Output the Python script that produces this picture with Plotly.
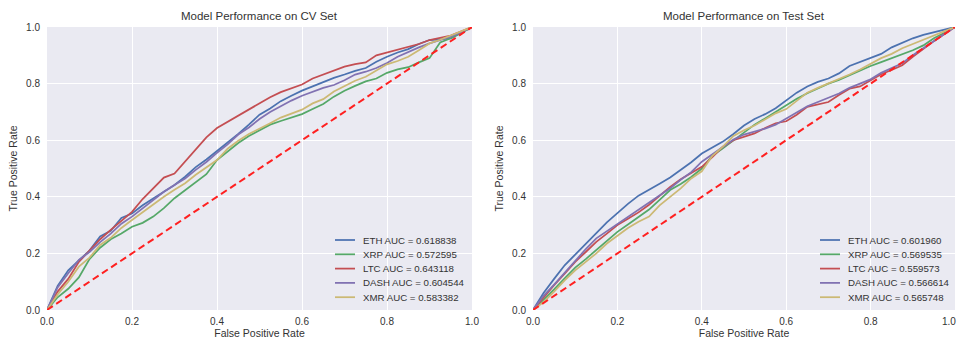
import plotly.graph_objects as go

# ---------------- data ----------------
fpr = [0, .025, .05, .075, .1, .125, .15, .175, .2, .225, .25, .275, .3, .325, .35, .375,
       .4, .425, .45, .475, .5, .525, .55, .575, .6, .625, .65, .675, .7, .725, .75, .775,
       .8, .825, .85, .875, .9, .925, .95, .975, 1.0]

coins = ["ETH", "XRP", "LTC", "DASH", "XMR"]
colors = ["#4C72B0", "#55A868", "#C44E52", "#8172B2", "#CCB974"]

cv_auc = ["0.618838", "0.572595", "0.643118", "0.604544", "0.583382"]
test_auc = ["0.601960", "0.569535", "0.559573", "0.566614", "0.565748"]

cv_eth = [0, .085, .14, .175, .21, .26, .28, .325, .341, .37, .395, .42, .442, .471, .505, .532,
          .562, .59, .622, .655, .69, .712, .738, .757, .775, .79, .805, .82, .832, .845, .855, .877,
          .895, .91, .922, .94, .954, .957, .96, .98, 1.0]
cv_xrp = [0, .045, .075, .115, .18, .22, .25, .27, .294, .308, .33, .36, .395, .424, .452, .48,
          .53, .56, .59, .615, .635, .655, .668, .68, .692, .71, .728, .754, .775, .792, .808, .818,
          .838, .85, .858, .875, .89, .945, .96, .98, 1.0]
cv_ltc = [0, .065, .11, .17, .21, .25, .283, .315, .347, .392, .43, .468, .482, .525, .565, .61,
          .643, .665, .688, .71, .73, .752, .77, .783, .797, .818, .832, .848, .86, .869, .875, .9,
          .91, .92, .928, .94, .954, .962, .97, .985, 1.0]
cv_dash = [0, .08, .13, .177, .205, .24, .27, .305, .33, .36, .39, .418, .442, .465, .495, .523,
           .555, .585, .62, .645, .675, .7, .72, .74, .757, .772, .785, .795, .812, .832, .842, .855,
           .873, .895, .912, .928, .942, .955, .966, .982, 1.0]
cv_xmr = [0, .055, .1, .153, .185, .23, .255, .29, .318, .346, .375, .4, .425, .448, .478, .505,
          .53, .57, .598, .622, .64, .66, .68, .695, .708, .73, .745, .772, .792, .81, .824, .846,
          .868, .88, .895, .918, .942, .955, .97, .985, 1.0]

test_eth = [0, .06, .11, .158, .196, .233, .27, .31, .342, .375, .404, .424, .446, .468, .495, .522,
            .553, .575, .595, .622, .652, .675, .692, .713, .74, .768, .79, .806, .818, .836, .862, .876,
            .889, .905, .928, .945, .96, .972, .982, .992, 1.0]
test_xrp = [0, .035, .073, .112, .15, .18, .212, .245, .276, .302, .33, .355, .389, .424, .445, .47,
            .5, .545, .571, .6, .628, .655, .677, .7, .725, .746, .766, .783, .8, .813, .83, .845,
            .862, .876, .89, .902, .918, .935, .96, .98, 1.0]
test_ltc = [0, .045, .088, .128, .17, .205, .241, .27, .3, .322, .345, .372, .404, .435, .462, .484,
            .506, .54, .577, .6, .612, .624, .643, .66, .667, .69, .718, .726, .735, .76, .782, .79,
            .812, .833, .848, .865, .895, .924, .95, .975, 1.0]
test_dash = [0, .05, .09, .133, .175, .215, .253, .278, .304, .33, .352, .377, .404, .43, .46, .487,
             .524, .55, .577, .602, .62, .63, .641, .655, .677, .7, .72, .735, .75, .765, .785, .8,
             .815, .838, .854, .872, .9, .924, .95, .975, 1.0]
test_xmr = [0, .028, .065, .105, .14, .17, .2, .235, .264, .29, .312, .33, .37, .4, .43, .465,
            .49, .545, .577, .615, .635, .652, .672, .695, .71, .74, .768, .785, .8, .815, .832, .85,
            .87, .89, .905, .925, .94, .955, .97, .985, 1.0]

cv_series = [cv_eth, cv_xrp, cv_ltc, cv_dash, cv_xmr]
test_series = [test_eth, test_xrp, test_ltc, test_dash, test_xmr]
diag = [0, 1]

titles = ["Model Performance on CV Set", "Model Performance on Test Set"]
ticks = [0, 0.2, 0.4, 0.6, 0.8, 1.0]
tick_text = ["0.0", "0.2", "0.4", "0.6", "0.8", "1.0"]

# ---------------- figure ----------------
W, H = 959, 339
FONT = "Liberation Sans, Arial, sans-serif"
TXT = "#333333"

fig = go.Figure()

panels = [("x", "y", cv_series, cv_auc), ("x2", "y2", test_series, test_auc)]
for xa, ya, series, aucs in panels:
    for coin, col, vals in zip(coins, colors, series):
        fig.add_trace(go.Scatter(x=fpr, y=vals, mode="lines", xaxis=xa, yaxis=ya,
                                 line=dict(color=col, width=1.75), showlegend=False,
                                 name=coin))
    fig.add_trace(go.Scatter(x=diag, y=diag, mode="lines", xaxis=xa, yaxis=ya,
                             line=dict(color="#FF2020", width=2, dash="7px,4px"),
                             showlegend=False, hoverinfo="skip"))

dom_x1 = [47 / W, 472 / W]
dom_x2 = [533 / W, 955 / W]
dom_y = [(H - 310) / H, (H - 27) / H]

axis_common = dict(range=[0, 1], tickvals=ticks, ticktext=tick_text, showgrid=True,
                   gridcolor="white", gridwidth=1, zeroline=False, showline=False,
                   ticks="", tickfont=dict(family=FONT, size=10, color=TXT),
                   fixedrange=True, automargin=False)

fig.update_layout(
    width=W, height=H,
    margin=dict(l=0, r=0, t=0, b=0),
    paper_bgcolor="white",
    plot_bgcolor="#EAEAF2",
    font=dict(family=FONT, color=TXT),
    xaxis=dict(domain=dom_x1, anchor="y", **axis_common, ticklabelstandoff=4,
               title=dict(text="False Positive Rate", font=dict(size=10.5, color=TXT), standoff=1)),
    yaxis=dict(domain=dom_y, anchor="x", **axis_common, ticklabelstandoff=6,
               title=dict(text="True Positive Rate", font=dict(size=10.5, color=TXT), standoff=6)),
    xaxis2=dict(domain=dom_x2, anchor="y2", **axis_common, ticklabelstandoff=4,
                title=dict(text="False Positive Rate", font=dict(size=10.5, color=TXT), standoff=1)),
    yaxis2=dict(domain=dom_y, anchor="x2", **axis_common, ticklabelstandoff=6,
                title=dict(text="True Positive Rate", font=dict(size=10.5, color=TXT), standoff=6)),
)

# the right panel's last x tick label would run past the page edge (plotly hides it);
# draw it nudged just inside the page
fig.add_annotation(x=1.0, y=0, xref="x2", yref="y2", text=tick_text[-1], showarrow=False,
                   xanchor="right", yanchor="top", yshift=-4, xshift=3,
                   font=dict(family=FONT, size=10, color=TXT))

# subplot titles
for dom, t in zip([dom_x1, dom_x2], titles):
    fig.add_annotation(x=(dom[0] + dom[1]) / 2, y=1 - 16 / H, xref="paper", yref="paper",
                       text=t, showarrow=False, xanchor="center", yanchor="middle",
                       font=dict(family=FONT, size=11.5, color=TXT))

# legends (drawn manually to match compact matplotlib layout)
legend_specs = [(335, 361, cv_auc), (820, 846, test_auc)]
row_y = [240, 254.3, 268.6, 282.9, 297.2]
for line_x0, text_x, aucs in legend_specs:
    for i, (coin, col, auc) in enumerate(zip(coins, colors, aucs)):
        yp = 1 - row_y[i] / H
        fig.add_shape(type="line", xref="paper", yref="paper",
                      x0=line_x0 / W, x1=(line_x0 + 20) / W, y0=yp, y1=yp,
                      line=dict(color=col, width=1.75))
        fig.add_annotation(x=text_x / W, y=yp, xref="paper", yref="paper",
                           text=f"{coin} AUC = {auc}", showarrow=False,
                           xanchor="left", yanchor="middle",
                           font=dict(family=FONT, size=9.7, color=TXT))

fig.write_html("out.html")
